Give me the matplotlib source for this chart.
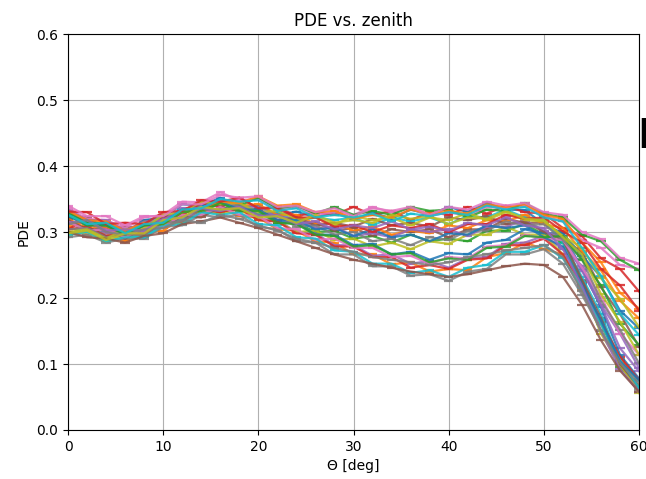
import numpy as np
import matplotlib
matplotlib.use("Agg")
import matplotlib.pyplot as plt

# zenith bins (deg)
theta = np.arange(0, 62, 2)

# PDE curves, one list per channel
pde_u01 = [0.326, 0.310, 0.312, 0.298, 0.318, 0.322, 0.342, 0.340, 0.352, 0.338, 0.340, 0.326, 0.331, 0.322, 0.330, 0.318, 0.330, 0.320, 0.334, 0.326, 0.338, 0.330, 0.344, 0.334, 0.333, 0.312, 0.298, 0.244, 0.186, 0.114, 0.078]
pde_u02 = [0.304, 0.320, 0.302, 0.300, 0.298, 0.322, 0.326, 0.344, 0.338, 0.352, 0.336, 0.338, 0.324, 0.330, 0.326, 0.338, 0.326, 0.332, 0.318, 0.330, 0.326, 0.338, 0.328, 0.340, 0.330, 0.328, 0.306, 0.294, 0.260, 0.244, 0.210]
pde_u03 = [0.336, 0.320, 0.318, 0.306, 0.322, 0.326, 0.346, 0.345, 0.360, 0.348, 0.350, 0.334, 0.338, 0.326, 0.330, 0.326, 0.338, 0.330, 0.336, 0.324, 0.330, 0.324, 0.338, 0.336, 0.340, 0.324, 0.316, 0.288, 0.276, 0.250, 0.244]
pde_u04 = [0.296, 0.308, 0.294, 0.296, 0.292, 0.314, 0.318, 0.336, 0.334, 0.342, 0.328, 0.330, 0.316, 0.322, 0.318, 0.322, 0.310, 0.322, 0.316, 0.322, 0.312, 0.324, 0.322, 0.334, 0.322, 0.318, 0.284, 0.232, 0.176, 0.104, 0.074]
pde_u05 = [0.330, 0.314, 0.314, 0.300, 0.316, 0.316, 0.334, 0.330, 0.344, 0.340, 0.352, 0.336, 0.340, 0.328, 0.338, 0.326, 0.332, 0.326, 0.338, 0.332, 0.334, 0.322, 0.334, 0.332, 0.344, 0.328, 0.322, 0.296, 0.286, 0.258, 0.242]
pde_u06 = [0.318, 0.304, 0.304, 0.290, 0.306, 0.308, 0.324, 0.322, 0.338, 0.332, 0.334, 0.318, 0.322, 0.310, 0.314, 0.308, 0.320, 0.310, 0.314, 0.308, 0.322, 0.318, 0.324, 0.312, 0.316, 0.300, 0.288, 0.228, 0.170, 0.100, 0.066]
pde_u07 = [0.300, 0.304, 0.290, 0.304, 0.306, 0.326, 0.330, 0.346, 0.342, 0.344, 0.330, 0.332, 0.320, 0.322, 0.311, 0.324, 0.318, 0.322, 0.310, 0.322, 0.318, 0.329, 0.318, 0.330, 0.318, 0.316, 0.294, 0.276, 0.230, 0.199, 0.156]
pde_u08 = [0.332, 0.318, 0.316, 0.302, 0.314, 0.312, 0.330, 0.332, 0.346, 0.344, 0.354, 0.340, 0.342, 0.330, 0.332, 0.320, 0.326, 0.322, 0.334, 0.328, 0.332, 0.328, 0.342, 0.338, 0.342, 0.326, 0.320, 0.284, 0.254, 0.208, 0.184]
pde_u09 = [0.314, 0.318, 0.302, 0.304, 0.302, 0.320, 0.322, 0.336, 0.332, 0.338, 0.324, 0.326, 0.312, 0.316, 0.304, 0.310, 0.306, 0.316, 0.304, 0.308, 0.302, 0.314, 0.310, 0.322, 0.310, 0.306, 0.274, 0.218, 0.150, 0.092, 0.058]
pde_u10 = [0.340, 0.324, 0.324, 0.310, 0.324, 0.324, 0.342, 0.342, 0.356, 0.352, 0.354, 0.338, 0.340, 0.330, 0.336, 0.324, 0.336, 0.332, 0.338, 0.326, 0.338, 0.334, 0.346, 0.340, 0.344, 0.330, 0.326, 0.300, 0.289, 0.261, 0.252]
pde_u11 = [0.298, 0.302, 0.288, 0.298, 0.298, 0.318, 0.322, 0.338, 0.334, 0.336, 0.322, 0.324, 0.314, 0.326, 0.314, 0.318, 0.314, 0.326, 0.320, 0.324, 0.312, 0.322, 0.320, 0.332, 0.320, 0.318, 0.292, 0.266, 0.206, 0.164, 0.114]
pde_u12 = [0.326, 0.312, 0.314, 0.298, 0.312, 0.314, 0.334, 0.336, 0.350, 0.346, 0.348, 0.332, 0.336, 0.322, 0.326, 0.322, 0.328, 0.316, 0.328, 0.324, 0.330, 0.326, 0.340, 0.334, 0.338, 0.322, 0.316, 0.276, 0.234, 0.176, 0.144]

pde_m01 = [0.316, 0.302, 0.302, 0.291, 0.306, 0.310, 0.330, 0.332, 0.344, 0.332, 0.330, 0.314, 0.314, 0.300, 0.302, 0.290, 0.294, 0.284, 0.296, 0.286, 0.290, 0.286, 0.302, 0.302, 0.312, 0.296, 0.284, 0.226, 0.164, 0.096, 0.066]
pde_m02 = [0.321, 0.322, 0.306, 0.308, 0.306, 0.324, 0.328, 0.346, 0.341, 0.344, 0.328, 0.328, 0.312, 0.314, 0.302, 0.306, 0.294, 0.304, 0.300, 0.304, 0.292, 0.304, 0.304, 0.320, 0.314, 0.314, 0.291, 0.269, 0.216, 0.176, 0.126]
pde_m03 = [0.296, 0.300, 0.286, 0.294, 0.294, 0.312, 0.314, 0.332, 0.328, 0.334, 0.318, 0.316, 0.300, 0.302, 0.288, 0.290, 0.278, 0.284, 0.274, 0.286, 0.282, 0.296, 0.296, 0.308, 0.296, 0.296, 0.266, 0.219, 0.146, 0.099, 0.056]
pde_m04 = [0.320, 0.306, 0.308, 0.294, 0.309, 0.312, 0.332, 0.334, 0.346, 0.341, 0.342, 0.326, 0.326, 0.312, 0.314, 0.302, 0.308, 0.296, 0.302, 0.298, 0.310, 0.306, 0.318, 0.316, 0.326, 0.312, 0.306, 0.271, 0.242, 0.196, 0.169]
pde_m05 = [0.334, 0.318, 0.318, 0.302, 0.316, 0.318, 0.336, 0.336, 0.348, 0.338, 0.338, 0.322, 0.322, 0.306, 0.308, 0.294, 0.298, 0.292, 0.304, 0.300, 0.304, 0.294, 0.308, 0.308, 0.318, 0.302, 0.290, 0.241, 0.189, 0.124, 0.089]
pde_m06 = [0.304, 0.306, 0.292, 0.296, 0.296, 0.314, 0.316, 0.334, 0.332, 0.342, 0.326, 0.324, 0.308, 0.310, 0.296, 0.300, 0.286, 0.290, 0.280, 0.292, 0.288, 0.302, 0.302, 0.316, 0.310, 0.312, 0.288, 0.259, 0.196, 0.152, 0.101]
pde_m07 = [0.324, 0.311, 0.310, 0.296, 0.310, 0.314, 0.334, 0.334, 0.346, 0.334, 0.334, 0.318, 0.318, 0.304, 0.306, 0.294, 0.304, 0.292, 0.296, 0.286, 0.298, 0.296, 0.310, 0.306, 0.310, 0.292, 0.278, 0.221, 0.166, 0.104, 0.076]
pde_m08 = [0.331, 0.330, 0.312, 0.314, 0.312, 0.330, 0.332, 0.348, 0.346, 0.352, 0.336, 0.336, 0.322, 0.322, 0.308, 0.310, 0.300, 0.310, 0.306, 0.312, 0.300, 0.312, 0.312, 0.326, 0.320, 0.322, 0.301, 0.284, 0.244, 0.219, 0.181]

pde_l01 = [0.309, 0.296, 0.298, 0.286, 0.300, 0.302, 0.322, 0.324, 0.336, 0.324, 0.322, 0.304, 0.302, 0.286, 0.284, 0.266, 0.266, 0.251, 0.254, 0.240, 0.244, 0.242, 0.262, 0.268, 0.284, 0.274, 0.266, 0.212, 0.160, 0.108, 0.074]
pde_l02 = [0.314, 0.314, 0.298, 0.302, 0.300, 0.318, 0.320, 0.338, 0.334, 0.338, 0.320, 0.318, 0.300, 0.298, 0.280, 0.280, 0.264, 0.266, 0.252, 0.256, 0.246, 0.260, 0.262, 0.282, 0.284, 0.294, 0.274, 0.249, 0.190, 0.146, 0.094]
pde_l03 = [0.292, 0.296, 0.284, 0.290, 0.290, 0.308, 0.310, 0.326, 0.322, 0.326, 0.308, 0.304, 0.286, 0.284, 0.266, 0.266, 0.248, 0.248, 0.234, 0.236, 0.226, 0.240, 0.244, 0.266, 0.266, 0.274, 0.252, 0.205, 0.152, 0.100, 0.060]
pde_l04 = [0.330, 0.314, 0.312, 0.298, 0.312, 0.314, 0.334, 0.336, 0.348, 0.336, 0.334, 0.316, 0.314, 0.296, 0.296, 0.280, 0.282, 0.266, 0.270, 0.258, 0.268, 0.266, 0.284, 0.288, 0.304, 0.298, 0.298, 0.264, 0.232, 0.181, 0.154]
pde_l05 = [0.304, 0.308, 0.294, 0.298, 0.296, 0.314, 0.316, 0.334, 0.330, 0.336, 0.318, 0.316, 0.298, 0.296, 0.278, 0.278, 0.262, 0.262, 0.246, 0.250, 0.244, 0.258, 0.260, 0.280, 0.280, 0.290, 0.266, 0.222, 0.164, 0.111, 0.076]
pde_l06 = [0.316, 0.302, 0.304, 0.292, 0.306, 0.308, 0.326, 0.326, 0.338, 0.326, 0.324, 0.306, 0.304, 0.288, 0.290, 0.276, 0.276, 0.262, 0.264, 0.252, 0.262, 0.260, 0.278, 0.280, 0.296, 0.290, 0.288, 0.246, 0.202, 0.146, 0.114]
pde_l07 = [0.296, 0.300, 0.286, 0.292, 0.292, 0.310, 0.312, 0.330, 0.326, 0.330, 0.312, 0.310, 0.292, 0.290, 0.272, 0.270, 0.252, 0.252, 0.238, 0.242, 0.232, 0.246, 0.250, 0.270, 0.270, 0.280, 0.260, 0.215, 0.160, 0.106, 0.064]
pde_l08 = [0.326, 0.310, 0.310, 0.296, 0.310, 0.312, 0.330, 0.332, 0.344, 0.332, 0.332, 0.314, 0.312, 0.296, 0.294, 0.278, 0.280, 0.266, 0.268, 0.254, 0.260, 0.258, 0.276, 0.278, 0.294, 0.292, 0.294, 0.258, 0.219, 0.161, 0.129]
pde_l09 = [0.300, 0.292, 0.290, 0.284, 0.294, 0.298, 0.312, 0.316, 0.322, 0.314, 0.306, 0.296, 0.286, 0.276, 0.266, 0.258, 0.252, 0.246, 0.240, 0.236, 0.232, 0.236, 0.242, 0.248, 0.252, 0.250, 0.232, 0.190, 0.136, 0.090, 0.058]
pde_l10 = [0.312, 0.318, 0.300, 0.296, 0.304, 0.306, 0.318, 0.314, 0.326, 0.320, 0.310, 0.302, 0.290, 0.284, 0.276, 0.270, 0.262, 0.258, 0.254, 0.250, 0.254, 0.262, 0.266, 0.272, 0.276, 0.280, 0.262, 0.210, 0.150, 0.102, 0.070]

curves = [pde_u01, pde_l01, pde_m01, pde_u02, pde_l02, pde_m02, pde_u03, pde_l03,
          pde_m03, pde_u04, pde_l04, pde_m04, pde_u05, pde_l05, pde_m05, pde_u06,
          pde_l06, pde_m06, pde_u07, pde_l07, pde_m07, pde_u08, pde_l08, pde_m08,
          pde_u09, pde_l09, pde_u10, pde_l10, pde_u11, pde_u12]

fig = plt.figure(figsize=(6.46, 4.79), dpi=100)
ax = fig.add_axes([0.1053, 0.1023, 0.8839, 0.8267])

for pde in curves:
    ax.errorbar(theta, pde, xerr=0.5, lw=1.6, elinewidth=1.6, alpha=0.85)

ax.set_xlim(0, 60)
ax.set_ylim(0, 0.6)
ax.grid(True)
ax.set_title('PDE vs. zenith')
ax.set_xlabel('Θ [deg]')
ax.set_ylabel('PDE')

# leftover of a neighbouring panel, cut by the image edge
fig.text(637 / 646, 1 - 148 / 479, 'H', fontsize=29, fontweight='bold', va='baseline')

fig.savefig('out.png', dpi=100)
